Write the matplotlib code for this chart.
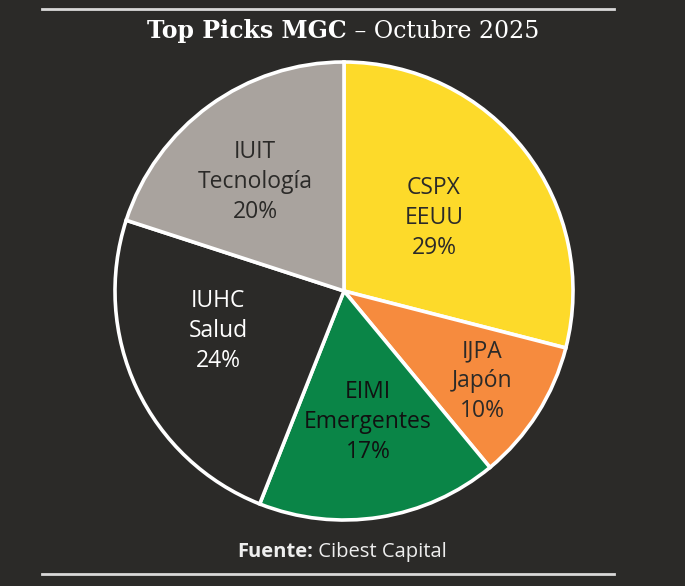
import matplotlib
matplotlib.use("Agg")
import matplotlib.pyplot as plt
import numpy as np

tickers = ["CSPX", "IJPA", "EIMI", "IUHC", "IUIT"]
regions = ["EEUU", "Japón", "Emergentes", "Salud", "Tecnología"]
shares = [29, 10, 17, 24, 20]
colors = ["#FDDA2A", "#F68B3E", "#0A8547", "#2B2A28", "#A9A39E"]
text_colors = ["#2B2A28", "#2B2A28", "#111111", "#FFFFFF", "#2B2A28"]
label_r = [0.506, 0.719, 0.582, 0.577, 0.615]
label_angle_shift = [1.2, -0.7, 1.4, -7.6, 3.2]

BG = "#2B2A28"
W, H = 685, 586
fig = plt.figure(figsize=(W / 100, H / 100), dpi=100, facecolor=BG)

cx, cy, R = 344, 291, 229
ax = fig.add_axes([(cx - R) / W, (H - cy - R) / H, 2 * R / W, 2 * R / H])
ax.set_facecolor(BG)
wedges, _ = ax.pie(shares, colors=colors, startangle=90, counterclock=False,
                   radius=1.0, wedgeprops=dict(edgecolor="white", linewidth=2.6))
for w in wedges:
    w.set_clip_on(False)
ax.set_xlim(-1.0, 1.0)
ax.set_ylim(-1.0, 1.0)
ax.set_aspect("equal")
ax.axis("off")

for w, t, rg, s, tc, lr, sh in zip(wedges, tickers, regions, shares, text_colors,
                                   label_r, label_angle_shift):
    mid = np.deg2rad((w.theta1 + w.theta2) / 2 + sh)
    ax.text(lr * np.cos(mid), lr * np.sin(mid), f"{t}\n{rg}\n{s}%",
            ha="center", va="center", fontsize=16.5, color=tc,
            family="Open Sans", fontweight="medium", linespacing=1.32)

# Lines
fig.add_artist(plt.Line2D([42 / W, 614 / W], [1 - 9 / H, 1 - 9 / H], color="#D9D9D9", lw=2))
fig.add_artist(plt.Line2D([42 / W, 614 / W], [1 - 574 / H, 1 - 574 / H], color="#D9D9D9", lw=2))

# Title (bold + regular)
fig.canvas.draw()
r = fig.canvas.get_renderer()
ty = 1 - 31 / H
t1 = fig.text(0, ty, "Top Picks MGC", fontsize=17, fontweight="bold", family="DejaVu Serif",
              color="white", va="center", ha="left")
t2 = fig.text(0, ty, " – Octubre 2025", fontsize=17, family="DejaVu Serif",
              color="white", va="center", ha="left")
w1 = t1.get_window_extent(r).width
w2 = t2.get_window_extent(r).width
x0 = 343 - (w1 + w2) / 2
t1.set_x(x0 / W)
t2.set_x((x0 + w1) / W)

# Footer
f1 = fig.text(0, 1 - 552 / H, "Fuente:", fontsize=14.5, fontweight="bold", family="Open Sans",
              color="#EEEEEE", va="center", ha="left")
f2 = fig.text(0, 1 - 552 / H, " Cibest Capital", fontsize=14.5, family="Open Sans",
              color="#EEEEEE", va="center", ha="left")
u1 = f1.get_window_extent(r).width
u2 = f2.get_window_extent(r).width
x0 = 342 - (u1 + u2) / 2
f1.set_x(x0 / W)
f2.set_x((x0 + u1) / W)

fig.savefig("out.png", dpi=100, facecolor=BG)
